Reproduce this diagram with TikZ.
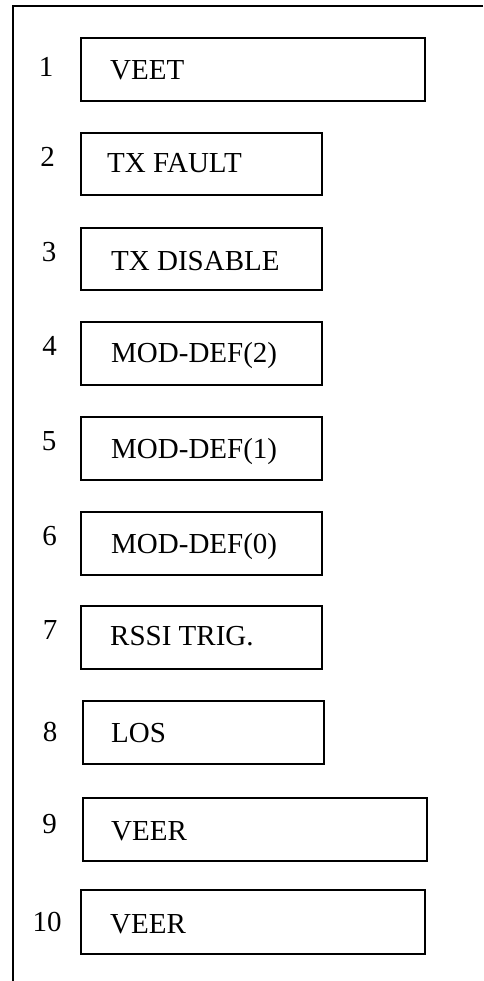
\documentclass[tikz,border=0pt]{standalone}
\usepackage{fontspec}
\setmainfont{Liberation Serif}
\begin{document}
\begin{tikzpicture}[x=1pt,y=-1pt,
  pinbox/.style={draw,line width=1.3pt,inner sep=0pt,outer sep=0pt},
  pinlabel/.style={inner sep=0pt,anchor=base west,font=\fontsize{29}{34}\selectfont},
  pinnum/.style={inner sep=0pt,anchor=base,font=\fontsize{29}{34}\selectfont}]
\useasboundingbox (0,0) rectangle (483,981);
% frame
\coordinate (ftr) at (483,6);
\coordinate (ftl) at (13,6);
\coordinate (fbl) at (13,981);
\draw[line width=1.7pt] (ftr) -- (ftl) -- (fbl);
% boxes
\newcommand{\pinrect}[5]{%
  \node[pinbox,minimum width={#3-#2},minimum height={#5-#4}] (b#1) at ({(#2+#3)/2},{(#4+#5)/2}) {};}
\pinrect{1}{81}{425}{38}{101}
\pinrect{2}{81}{322}{133}{195}
\pinrect{3}{81}{322}{228}{290}
\pinrect{4}{81}{322}{322}{385}
\pinrect{5}{81}{322}{417}{480}
\pinrect{6}{81}{322}{512}{575}
\pinrect{7}{81}{322}{606}{669}
\pinrect{8}{83}{324}{701}{764}
\pinrect{9}{83}{427}{798}{861}
\pinrect{10}{81}{425}{890}{954}
% labels
\node[pinlabel] (t1) at (110,80) {VEET};
\node[pinlabel] (t2) at (107,173) {TX FAULT};
\node[pinlabel] (t3) at (111,270) {TX DISABLE};
\node[pinlabel] (t4) at (111,362.5) {MOD-DEF(2)};
\node[pinlabel] (t5) at (111,458) {MOD-DEF(1)};
\node[pinlabel] (t6) at (111,553) {MOD-DEF(0)};
\node[pinlabel] (t7) at (110,645.5) {RSSI TRIG.};
\node[pinlabel] (t8) at (111,742.5) {LOS};
\node[pinlabel] (t9) at (111,840.5) {VEER};
\node[pinlabel] (t10) at (110,933) {VEER};
% numbers
\node[pinnum] (n1) at (46,77) {1};
\node[pinnum] (n2) at (47.5,167) {2};
\node[pinnum] (n3) at (49,261.5) {3};
\node[pinnum] (n4) at (49.5,355) {4};
\node[pinnum] (n5) at (49,450) {5};
\node[pinnum] (n6) at (49.5,545) {6};
\node[pinnum] (n7) at (50,639) {7};
\node[pinnum] (n8) at (50,741.5) {8};
\node[pinnum] (n9) at (49.5,833) {9};
\node[pinnum] (n10) at (47,931.5) {10};
\end{tikzpicture}
\end{document}
